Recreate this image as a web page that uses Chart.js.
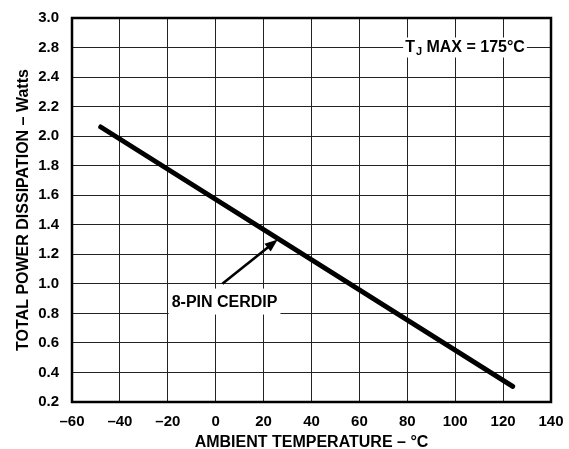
<!DOCTYPE html>
<html>
<head>
<meta charset="utf-8">
<script src="https://cdn.jsdelivr.net/npm/chart.js@4"></script>
<style>
  html, body { margin: 0; padding: 0; background: #fff; }
  #wrap { width: 569px; height: 449px; }
</style>
</head>
<body>
<div id="wrap"><canvas id="derating"></canvas></div>
<script>
// values
const ambientTemp = [-48, 124];
const powerWatts = [2.062, 0.306];

const xTickLabels = ['–60', '–40', '–20', '0', '20', '40', '60', '80', '100', '120', '140'];
// the printed axis skips 2.6, so the top two labels sit one step high
const yTickLabels = ['0.2', '0.4', '0.6', '0.8', '1.0', '1.2', '1.4', '1.6', '1.8', '2.0', '2.2', '2.4', '2.8', '3.0'];

const FONT = '"Liberation Sans", Arial, Helvetica, sans-serif';

const cerdipNote = { text: '8-PIN CERDIP', x: 3.7, y: 0.88, from: [2.8, 1.0], to: [25.9, 1.30] };
const tjNote = { x: 79.1, y: 2.6 };

const notes = {
    id: 'notes',
    afterDatasetsDraw(chart) {
        const { ctx, chartArea: a, scales: { x, y } } = chart;
        ctx.save();

        // heavy frame round the plot
        ctx.lineWidth = 2.5;
        ctx.strokeStyle = '#000';
        ctx.strokeRect(a.left, a.top, a.right - a.left, a.bottom - a.top);

        // 8-PIN CERDIP label
        ctx.font = 'bold 16px ' + FONT;
        const cx = x.getPixelForValue(cerdipNote.x);
        const cy = y.getPixelForValue(cerdipNote.y);
        const w = ctx.measureText(cerdipNote.text).width;
        ctx.fillStyle = '#fff';
        ctx.fillRect(cx - w / 2 - 3, cy - 13, w + 6, 26);
        ctx.fillStyle = '#000';
        ctx.textAlign = 'center';
        ctx.textBaseline = 'middle';
        ctx.fillText(cerdipNote.text, cx, cy + 1);

        // arrow
        const x0 = x.getPixelForValue(cerdipNote.from[0]);
        const y0 = y.getPixelForValue(cerdipNote.from[1]);
        const x1 = x.getPixelForValue(cerdipNote.to[0]);
        const y1 = y.getPixelForValue(cerdipNote.to[1]);
        const ang = Math.atan2(y1 - y0, x1 - x0);
        const head = 13;
        ctx.lineWidth = 2.6;
        ctx.beginPath();
        ctx.moveTo(x0, y0);
        ctx.lineTo(x1 - head * 0.8 * Math.cos(ang), y1 - head * 0.8 * Math.sin(ang));
        ctx.stroke();
        ctx.beginPath();
        ctx.moveTo(x1, y1);
        ctx.lineTo(x1 - head * Math.cos(ang) + 5 * Math.sin(ang), y1 - head * Math.sin(ang) - 5 * Math.cos(ang));
        ctx.lineTo(x1 - head * Math.cos(ang) - 5 * Math.sin(ang), y1 - head * Math.sin(ang) + 5 * Math.cos(ang));
        ctx.closePath();
        ctx.fill();

        // TJ MAX label
        const tx = x.getPixelForValue(tjNote.x);
        const ty = y.getPixelForValue(tjNote.y);
        ctx.textAlign = 'left';
        ctx.font = 'bold 16px ' + FONT;
        const wT = ctx.measureText('T').width;
        ctx.font = 'bold 11px ' + FONT;
        const wJ = ctx.measureText('J').width;
        ctx.font = 'bold 16px ' + FONT;
        const rest = ' MAX = 175°C';
        const wR = ctx.measureText(rest).width;
        ctx.fillStyle = '#fff';
        ctx.fillRect(tx - 2, ty - 10, wT + wJ + 1 + wR + 4, 20);
        ctx.fillStyle = '#000';
        ctx.fillText('T', tx, ty);
        ctx.font = 'bold 11px ' + FONT;
        ctx.fillText('J', tx + wT + 1, ty + 4);
        ctx.font = 'bold 16px ' + FONT;
        ctx.fillText(rest, tx + wT + wJ + 1, ty);

        ctx.restore();
    }
};

new Chart(document.getElementById('derating'), {
    type: 'scatter',
    data: {
        datasets: [{
            data: ambientTemp.map((t, i) => ({ x: t, y: powerWatts[i] })),
            showLine: true,
            borderColor: '#000',
            borderWidth: 5,
            borderCapStyle: 'round',
            pointRadius: 0
        }]
    },
    options: {
        responsive: true,
        maintainAspectRatio: false,
        animation: false,
        layout: { padding: { left: 0, right: 18, top: 18, bottom: 0 } },
        plugins: { legend: { display: false }, tooltip: { enabled: false } },
        scales: {
            x: {
                type: 'linear',
                min: -60,
                max: 140,
                afterFit: (s) => {
                    s.height = 47;
                    s.paddingLeft = 0;
                    s.paddingRight = 0;
                },
                ticks: {
                    stepSize: 20,
                    padding: 11,
                    color: '#000',
                    font: { family: FONT, size: 15, weight: 'bold' },
                    callback: (v, i) => xTickLabels[i]
                },
                grid: { color: '#222', lineWidth: 1, drawTicks: false },
                border: { display: false },
                title: {
                    display: true,
                    text: 'AMBIENT TEMPERATURE – °C',
                    color: '#000',
                    padding: { top: 0, bottom: -2 },
                    font: { family: FONT, size: 16, weight: 'bold', lineHeight: 1 }
                }
            },
            y: {
                type: 'linear',
                min: 0.2,
                max: 2.8,
                afterFit: (s) => {
                    s.width = 72;
                    s.paddingTop = 0;
                    s.paddingBottom = 0;
                },
                ticks: {
                    stepSize: 0.2,
                    padding: 13,
                    color: '#000',
                    font: { family: FONT, size: 15, weight: 'bold' },
                    callback: (v, i) => yTickLabels[i]
                },
                grid: { color: '#222', lineWidth: 1, drawTicks: false },
                border: { display: false },
                title: {
                    display: true,
                    text: 'TOTAL POWER DISSIPATION – Watts',
                    color: '#000',
                    padding: { top: 14, bottom: 0 },
                    font: { family: FONT, size: 16, weight: 'bold' }
                }
            }
        }
    },
    plugins: [notes]
});
</script>
</body>
</html>
